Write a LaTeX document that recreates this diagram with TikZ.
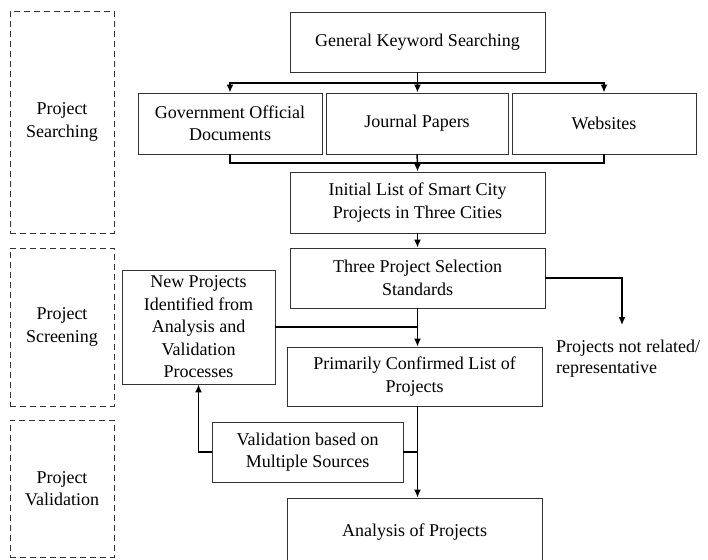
\documentclass[tikz,border=0pt]{standalone}
\usepackage{fontspec}
\setmainfont{Liberation Serif}
\usepackage{tikz}
\usetikzlibrary{positioning, arrows.meta}

\begin{document}
\begin{tikzpicture}[x=1pt,y=-1pt,
  box/.style={draw=black!80,line width=0.9pt,align=center,inner sep=2pt,font=\fontsize{18}{22.5}\selectfont},
  stage/.style={draw=black!80,dash pattern=on 6pt off 4pt,line width=0.9pt,align=center,font=\fontsize{18}{22.5}\selectfont},
  link/.style={line width=1.5pt,>={Latex[length=8pt,width=7pt]}}]
\useasboundingbox (0,0) rectangle (708,559);
\color{black}

%les etapes
\node[stage,minimum width=104,minimum height=222] (srch) at (62,122) {Project\\Searching};
\node[stage,minimum width=104,minimum height=158] (scrn) at (62,327) {Project\\Screening};
\node[stage,minimum width=104,minimum height=137] (vald) at (62,488.5) {Project\\Validation};

%les boites
\node[box,minimum width=255,minimum height=60] (kw) at (417.5,42) {General Keyword Searching};
\node[box,minimum width=184,minimum height=61] (gov) at (230,123.5) {Government Official\\Documents};
\node[box,minimum width=182,minimum height=61] (jour) at (417,123.5) {Journal Papers};
\node[box,minimum width=184,minimum height=61] (web) at (604,123.5) {Websites};
\node[box,minimum width=255,minimum height=61] (init) at (417.5,202.5) {Initial List of Smart City\\Projects in Three Cities};
\node[box,minimum width=255,minimum height=60] (std) at (417.5,278) {Three Project Selection\\Standards};
\node[box,minimum width=153,minimum height=114] (newp) at (198.5,327) {New Projects\\Identified from\\Analysis and\\Validation\\Processes};
\node[box,minimum width=255,minimum height=59] (prim) at (414.5,376.5) {Primarily Confirmed List of\\Projects};
\node[box,minimum width=191,minimum height=60] (valid) at (307.5,452) {Validation based on\\Multiple Sources};
\node[box,minimum width=255,minimum height=68] (anal) at (414.5,532) {Analysis of Projects};
\node[align=left,anchor=west,inner sep=0pt,font=\fontsize{18}{21}\selectfont] (notrel) at (556,359) {Projects not related/\\representative};

\coordinate (split) at (417.5,83);
\coordinate (merge) at (417.5,163);
\coordinate (rej) at (622,325);

%les liens
\draw[link] (kw) -- (split);
\draw[link,->] (split) -| (gov);
\draw[link,->] (split) -| (web);
\draw[link,->] (split) -- (jour);
\draw[link] (gov.south) |- (merge) -| (web.south);
\draw[link] (jour.south) -- (merge);
\draw[link,->] (merge) -- (init);
\draw[link,->] (init) -- (std);
\draw[link,->] (std.south) -- (std.south |- prim.north);
\draw[link] (newp.east) -- (std.south |- newp.east);
\draw[link,->] (std.east) -| (rej);
\draw[link,->] (std.south |- prim.south) -- (std.south |- anal.north);
\draw[link] (valid.east) -- (std.south |- valid.east);
\draw[link,->] (valid.west) -| (newp.south);

\end{tikzpicture}
\end{document}
